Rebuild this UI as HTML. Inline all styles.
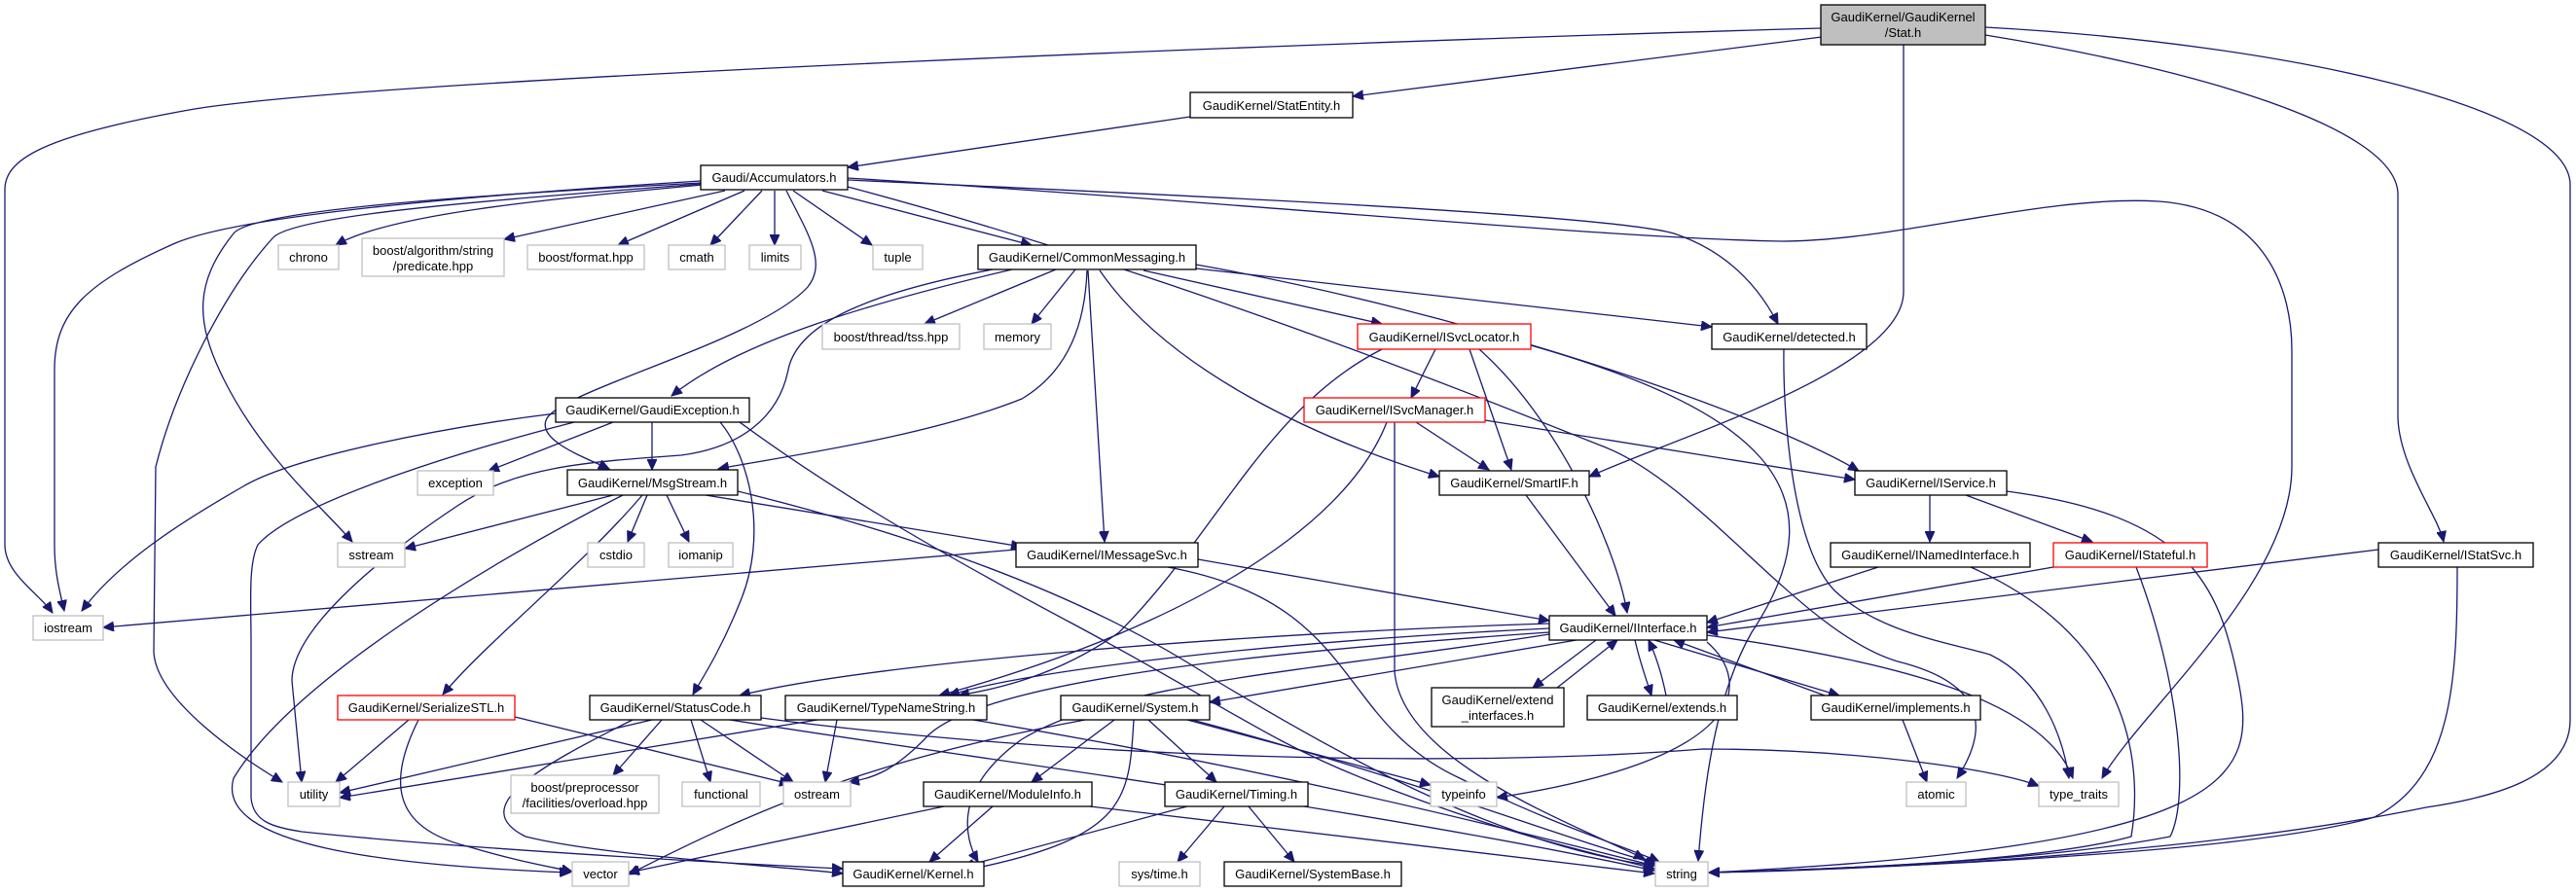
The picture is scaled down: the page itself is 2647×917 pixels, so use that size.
<!DOCTYPE html>
<html><head><meta charset="utf-8"><style>
html,body{margin:0;padding:0;background:#fff;}
svg{display:block;}
text{font-family:"Liberation Sans",sans-serif;font-size:13px;fill:#000;}
.e{fill:none;stroke:#191970;stroke-width:1.3;marker-end:url(#a);}
</style></head><body>
<svg width="2647" height="917" viewBox="0 0 2647 917" xmlns="http://www.w3.org/2000/svg">
<defs><marker id="a" markerUnits="userSpaceOnUse" markerWidth="12" markerHeight="10" refX="11" refY="5" orient="auto"><path d="M0,0 L11,5 L0,10 z" fill="#191970" stroke="#191970"/></marker></defs>
<g>
<!-- Stat.h -->
<path class="e" d="M1872,29 C1400,42 400,80 200,112 C40,140 5,165 5,195 L5,560 C5,590 40,610 54,630"/>
<path class="e" d="M1872,38 L1390,99"/>
<path class="e" d="M1956,46 L1956,300 C1956,380 1720,450 1633,490"/>
<path class="e" d="M2040,36 C2250,70 2464,130 2464,200 L2464,430 C2466,480 2505,530 2511,557"/>
<path class="e" d="M2040,28 C2350,45 2641,110 2641,190 L2641,740 C2641,800 2560,820 2493,830 C2250,880 1900,895 1756,897"/>
<!-- StatEntity -->
<path class="e" d="M1223,120 L871,172"/>
<!-- Accumulators -->
<path class="e" d="M722,190 C560,205 400,220 345,252"/>
<path class="e" d="M745,196 L518,246"/>
<path class="e" d="M765,196 L635,252"/>
<path class="e" d="M783,196 L730,252"/>
<path class="e" d="M796,196 L796,252"/>
<path class="e" d="M815,196 L896,252"/>
<path class="e" d="M845,196 L1060,252"/>
<path class="e" d="M808,196 C830,240 850,270 830,295 C780,350 580,400 562,430 C550,452 600,470 626,482"/>
<path class="e" d="M720,186 C500,200 250,220 180,250 C90,290 56,320 56,380 L56,560 C56,590 62,610 66,628"/>
<path class="e" d="M720,188 C500,200 260,215 240,240 C200,290 200,330 230,390 C270,470 330,520 362,557"/>
<path class="e" d="M720,189 C520,205 300,220 280,245 C230,300 180,400 160,480 L158,670 C160,720 250,780 290,804"/>
<path class="e" d="M871,185 C1200,200 1650,220 1720,240 C1780,260 1810,300 1827,333"/>
<path class="e" d="M871,183 C1300,210 1650,245 1830,248 C1950,248 2100,200 2218,207 C2330,215 2355,300 2355,360 L2355,480 C2355,600 2200,730 2160,800"/>
<path class="e" d="M871,192 C1200,280 1500,400 1650,460 C1750,500 1850,650 1950,680 C2030,700 2050,740 2011,800"/>
<!-- CommonMessaging -->
<path class="e" d="M1040,277 C900,310 760,350 690,407"/>
<path class="e" d="M1020,277 C900,300 820,330 810,380 C800,430 760,460 700,468 C600,475 530,480 470,520 C380,580 300,650 300,700 L310,804"/>
<path class="e" d="M1085,277 L950,333"/>
<path class="e" d="M1105,277 L1060,333"/>
<path class="e" d="M1117,278 C1115,330 1100,380 1050,410 C950,450 800,470 738,482"/>
<path class="e" d="M1118,278 L1135,557"/>
<path class="e" d="M1130,278 C1200,380 1350,450 1479,490"/>
<path class="e" d="M1175,278 L1420,333"/>
<path class="e" d="M1229,276 L1759,336"/>
<path class="e" d="M1229,272 C1500,320 1800,420 1910,484"/>
<!-- GaudiException -->
<path class="e" d="M630,434 L502,484"/>
<path class="e" d="M670,434 L670,483"/>
<path class="e" d="M571,425 C450,440 300,470 250,500 C180,540 120,580 84,628"/>
<path class="e" d="M590,434 C450,470 300,520 265,560 C255,580 258,620 258,660 L258,820 C260,845 280,850 310,855 C500,875 800,890 866,893"/>
<path class="e" d="M740,434 C770,470 790,550 760,620 C740,670 720,700 712,714"/>
<path class="e" d="M760,434 C850,500 950,560 1100,640 C1250,720 1300,760 1400,800 C1550,860 1650,880 1700,893"/>
<!-- MsgStream -->
<path class="e" d="M630,509 L416,564"/>
<path class="e" d="M665,509 L645,557"/>
<path class="e" d="M685,509 L708,557"/>
<path class="e" d="M660,509 C600,580 500,660 455,714"/>
<path class="e" d="M640,509 C500,580 300,700 240,800 C220,870 400,890 586,897"/>
<path class="e" d="M725,509 L1050,562"/>
<path class="e" d="M758,505 C900,540 1100,600 1250,700 C1400,790 1550,870 1700,890"/>
<!-- SerializeSTL -->
<path class="e" d="M420,740 L345,804"/>
<path class="e" d="M430,740 C400,800 400,850 480,870 C530,885 560,890 588,896"/>
<path class="e" d="M529,737 L812,806"/>
<!-- StatusCode -->
<path class="e" d="M670,740 L349,815"/>
<path class="e" d="M680,740 L630,797"/>
<path class="e" d="M710,740 L730,804"/>
<path class="e" d="M720,740 L815,804"/>
<path class="e" d="M650,740 C550,790 480,830 540,860 C620,880 800,890 866,898"/>
<path class="e" d="M750,740 C1000,780 1400,830 1700,895"/>
<path class="e" d="M782,738 C1100,780 1500,790 1750,770 C1900,770 2050,790 2095,808"/>
<!-- TypeNameString -->
<path class="e" d="M840,740 L349,820"/>
<path class="e" d="M860,740 L848,804"/>
<path class="e" d="M1000,740 C1300,790 1500,840 1700,890"/>
<!-- IInterface -->
<path class="e" d="M1592,646 C1300,660 1050,690 975,715"/>
<path class="e" d="M1592,641 C1300,650 900,680 760,715"/>
<path class="e" d="M1620,658 L1243,722"/>
<path class="e" d="M1640,658 L1575,707"/>
<path class="e" d="M1600,707 L1662,658"/>
<path class="e" d="M1680,658 C1685,680 1692,700 1697,715"/>
<path class="e" d="M1712,715 C1708,695 1702,675 1694,658"/>
<path class="e" d="M1700,658 L1890,715"/>
<path class="e" d="M1875,715 L1720,658"/>
<path class="e" d="M1592,650 C1300,670 1000,700 950,760 C920,790 900,800 872,804"/>
<path class="e" d="M1592,652 C1350,690 1150,700 1050,760 C980,810 990,860 1005,886"/>
<path class="e" d="M1754,660 C1800,700 1800,780 1538,820"/>
<path class="e" d="M1754,653 C1950,680 2100,720 2130,800"/>
<!-- ISvcLocator -->
<path class="e" d="M1475,359 L1450,409"/>
<path class="e" d="M1510,359 L1553,483"/>
<path class="e" d="M1520,359 C1600,430 1660,560 1672,630"/>
<path class="e" d="M1420,359 C1300,420 1250,550 1150,650 C1080,700 1010,710 985,715"/>
<path class="e" d="M1573,355 C1800,420 1900,500 1800,650 C1760,720 1750,820 1745,885"/>
<!-- ISvcManager -->
<path class="e" d="M1455,434 L1530,483"/>
<path class="e" d="M1526,432 L1906,493"/>
<path class="e" d="M1425,434 C1380,550 1200,650 965,715"/>
<path class="e" d="M1433,434 L1433,690 C1440,780 1600,840 1690,883"/>
<!-- SmartIF -->
<path class="e" d="M1568,509 L1660,633"/>
<!-- IMessageSvc -->
<path class="e" d="M1044,565 L106,645"/>
<path class="e" d="M1231,575 L1592,638"/>
<path class="e" d="M1200,583 C1400,620 1370,740 1500,800 C1600,850 1670,870 1705,886"/>
<!-- System -->
<path class="e" d="M1145,740 L1060,804"/>
<path class="e" d="M1165,740 C1160,820 1160,860 1000,893"/>
<path class="e" d="M1180,740 L1250,804"/>
<path class="e" d="M1220,740 L1470,807"/>
<path class="e" d="M1225,740 C1450,800 1600,860 1702,888"/>
<path class="e" d="M1115,740 C900,780 780,830 646,899"/>
<!-- ModuleInfo -->
<path class="e" d="M1020,829 L955,886"/>
<path class="e" d="M970,829 L646,897"/>
<path class="e" d="M1120,829 L1700,898"/>
<!-- Timing -->
<path class="e" d="M1220,829 L990,891"/>
<path class="e" d="M1258,829 L1210,886"/>
<path class="e" d="M1283,829 L1330,886"/>
<!-- IService -->
<path class="e" d="M1983,509 L1983,557"/>
<path class="e" d="M2020,509 L2150,557"/>
<path class="e" d="M2062,505 C2250,530 2280,600 2300,700 C2320,800 2300,870 1756,897"/>
<!-- INamedInterface / IStateful / IStatSvc -->
<path class="e" d="M1930,583 L1754,640"/>
<path class="e" d="M2025,583 C2200,660 2200,800 2190,860 C2100,885 1900,893 1756,897"/>
<path class="e" d="M2110,583 L1754,645"/>
<path class="e" d="M2195,583 C2240,700 2250,820 2230,860 C2100,885 1900,893 1756,897"/>
<path class="e" d="M2444,565 L1754,650"/>
<path class="e" d="M2525,583 C2525,700 2520,800 2440,840 C2300,880 1900,893 1756,897"/>
<!-- implements / detected -->
<path class="e" d="M1955,740 L1980,804"/>
<path class="e" d="M1833,359 C1832,420 1840,560 1885,607 C1930,650 2000,660 2045,673 C2100,700 2120,760 2126,800"/>
</g>
<g>
<!-- nodes: documented -->
<g fill="#fff" stroke="#000" stroke-width="1.3">
<rect x="1223" y="95" width="167" height="26"/>
<rect x="720" y="170" width="151" height="25"/>
<rect x="1005" y="252" width="224" height="25"/>
<rect x="1759" y="333" width="159" height="26"/>
<rect x="571" y="409" width="199" height="25"/>
<rect x="583" y="483" width="175" height="26"/>
<rect x="1479" y="484" width="154" height="25"/>
<rect x="1906" y="484" width="156" height="25"/>
<rect x="1044" y="558" width="187" height="25"/>
<rect x="1881" y="558" width="205" height="25"/>
<rect x="2444" y="558" width="159" height="25"/>
<rect x="1592" y="633" width="162" height="25"/>
<rect x="606" y="715" width="176" height="25"/>
<rect x="807" y="715" width="207" height="25"/>
<rect x="1090" y="715" width="153" height="25"/>
<rect x="1471" y="707" width="136" height="40"/>
<rect x="1631" y="715" width="154" height="25"/>
<rect x="1861" y="715" width="174" height="25"/>
<rect x="949" y="804" width="173" height="25"/>
<rect x="1197" y="804" width="147" height="25"/>
<rect x="866" y="886" width="145" height="25"/>
<rect x="1258" y="886" width="182" height="25"/>
</g>
<g fill="#fff" stroke="#ff0000" stroke-width="1.3">
<rect x="1395" y="333" width="178" height="26"/>
<rect x="1340" y="409" width="186" height="25"/>
<rect x="2110" y="558" width="158" height="25"/>
<rect x="347" y="715" width="182" height="25"/>
</g>
<g fill="#fff" stroke="#bfbfbf" stroke-width="1.3">
<rect x="286" y="252" width="62" height="25"/>
<rect x="372" y="245" width="146" height="39"/>
<rect x="542" y="252" width="120" height="25"/>
<rect x="687" y="252" width="58" height="25"/>
<rect x="770" y="252" width="53" height="25"/>
<rect x="897" y="252" width="51" height="25"/>
<rect x="845" y="333" width="141" height="26"/>
<rect x="1011" y="333" width="69" height="26"/>
<rect x="429" y="484" width="78" height="25"/>
<rect x="347" y="558" width="69" height="25"/>
<rect x="604" y="558" width="58" height="25"/>
<rect x="687" y="558" width="66" height="25"/>
<rect x="34" y="633" width="72" height="25"/>
<rect x="296" y="804" width="53" height="25"/>
<rect x="525" y="797" width="152" height="39"/>
<rect x="701" y="804" width="80" height="25"/>
<rect x="805" y="804" width="69" height="25"/>
<rect x="1470" y="804" width="68" height="25"/>
<rect x="1959" y="804" width="61" height="25"/>
<rect x="2095" y="804" width="82" height="25"/>
<rect x="588" y="886" width="58" height="25"/>
<rect x="1150" y="886" width="83" height="25"/>
<rect x="1701" y="886" width="54" height="25"/>
</g>
<rect x="1871" y="5" width="169" height="41" fill="#bfbfbf" stroke="#000" stroke-width="1.3"/>
</g>
<g text-anchor="middle">
<text x="1955.5" y="22">GaudiKernel/GaudiKernel</text>
<text x="1955.5" y="38">/Stat.h</text>
<text x="1306.5" y="113">GaudiKernel/StatEntity.h</text>
<text x="795.5" y="187">Gaudi/Accumulators.h</text>
<text x="1117" y="269">GaudiKernel/CommonMessaging.h</text>
<text x="1838.5" y="351">GaudiKernel/detected.h</text>
<text x="670.5" y="426">GaudiKernel/GaudiException.h</text>
<text x="670.5" y="501">GaudiKernel/MsgStream.h</text>
<text x="1556" y="501">GaudiKernel/SmartIF.h</text>
<text x="1984" y="501">GaudiKernel/IService.h</text>
<text x="1137.5" y="575">GaudiKernel/IMessageSvc.h</text>
<text x="1983.5" y="575">GaudiKernel/INamedInterface.h</text>
<text x="2523.5" y="575">GaudiKernel/IStatSvc.h</text>
<text x="1673" y="650">GaudiKernel/IInterface.h</text>
<text x="694" y="732">GaudiKernel/StatusCode.h</text>
<text x="910.5" y="732">GaudiKernel/TypeNameString.h</text>
<text x="1166.5" y="732">GaudiKernel/System.h</text>
<text x="1539" y="724">GaudiKernel/extend</text>
<text x="1539" y="740">_interfaces.h</text>
<text x="1708" y="732">GaudiKernel/extends.h</text>
<text x="1948" y="732">GaudiKernel/implements.h</text>
<text x="1035.5" y="821">GaudiKernel/ModuleInfo.h</text>
<text x="1270.5" y="821">GaudiKernel/Timing.h</text>
<text x="938.5" y="903">GaudiKernel/Kernel.h</text>
<text x="1349" y="903">GaudiKernel/SystemBase.h</text>
<text x="1484" y="351">GaudiKernel/ISvcLocator.h</text>
<text x="1433" y="426">GaudiKernel/ISvcManager.h</text>
<text x="2189" y="575">GaudiKernel/IStateful.h</text>
<text x="438" y="732">GaudiKernel/SerializeSTL.h</text>
<text x="317" y="269">chrono</text>
<text x="445" y="262">boost/algorithm/string</text>
<text x="445" y="278">/predicate.hpp</text>
<text x="602" y="269">boost/format.hpp</text>
<text x="716" y="269">cmath</text>
<text x="796.5" y="269">limits</text>
<text x="922.5" y="269">tuple</text>
<text x="915.5" y="351">boost/thread/tss.hpp</text>
<text x="1045.5" y="351">memory</text>
<text x="468" y="501">exception</text>
<text x="381.5" y="575">sstream</text>
<text x="633" y="575">cstdio</text>
<text x="720" y="575">iomanip</text>
<text x="70" y="650">iostream</text>
<text x="322.5" y="821">utility</text>
<text x="601" y="814">boost/preprocessor</text>
<text x="601" y="830">/facilities/overload.hpp</text>
<text x="741" y="821">functional</text>
<text x="839.5" y="821">ostream</text>
<text x="1504" y="821">typeinfo</text>
<text x="1989.5" y="821">atomic</text>
<text x="2136" y="821">type_traits</text>
<text x="617" y="903">vector</text>
<text x="1191.5" y="903">sys/time.h</text>
<text x="1728" y="903">string</text>
</g>
</svg>
</body></html>
